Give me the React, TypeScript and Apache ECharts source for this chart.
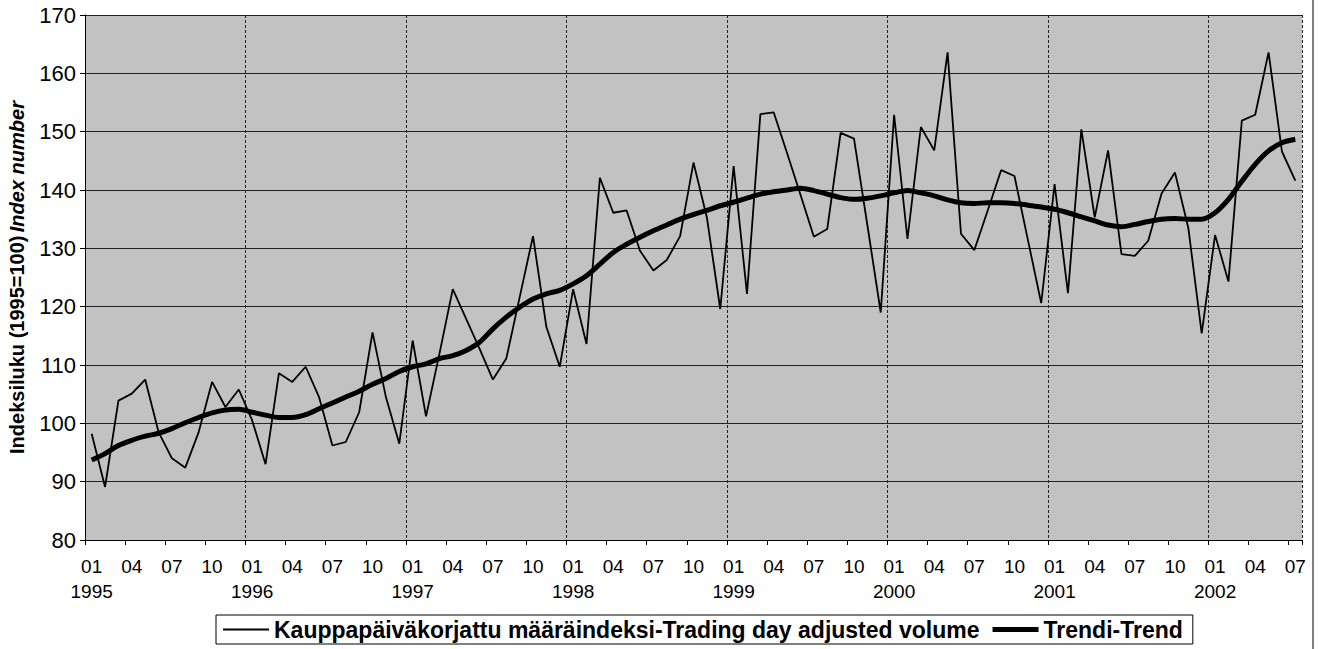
import React, { useEffect, useRef } from "react";
import * as echarts from "echarts";

const years = ["1995", "1996", "1997", "1998", "1999", "2000", "2001", "2002"];
const monthNames = ["01", "02", "03", "04", "05", "06", "07", "08", "09", "10", "11", "12"];
const lastMonthCount = 7; // 2002 goes to 07

const categories: string[] = [];
years.forEach((y, yi) => {
  const n = yi === years.length - 1 ? lastMonthCount : 12;
  for (let m = 0; m < n; m++) categories.push(y + "-" + monthNames[m]);
});

const volume = [
  98.2, 89.1, 103.9, 105.1, 107.5, 98.5, 94.0, 92.4, 98.5, 107.1, 102.8, 105.8,
  100.5, 93.0, 108.6, 107.1, 109.7, 104.5, 96.2, 96.8, 101.9, 115.6, 104.5, 96.5,
  114.2, 101.2, 111.9, 123.0, 117.9, 112.8, 107.5, 111.1, 121.6, 132.1, 116.5, 109.7,
  123.0, 113.6, 142.1, 136.1, 136.5, 129.6, 126.2, 128.0, 132.1, 144.7, 135.3, 119.6,
  144.1, 122.2, 153.0, 153.3, 146.3, 139.2, 132.0, 133.3, 149.8, 148.8, 134.0, 119.0,
  152.9, 131.6, 150.8, 146.8, 163.6, 132.5, 129.7, 136.5, 143.4, 142.4, 131.5, 120.6,
  141.0, 122.3, 150.4, 135.3, 146.8, 129.0, 128.7, 131.3, 139.4, 143.0, 133.5, 115.4,
  132.3, 124.3, 151.9, 152.9, 163.6, 146.6, 141.6,
];

const trend = [
  93.7, 94.8, 96.2, 97.1, 97.8, 98.3, 99.1, 100.1, 101.0, 101.8, 102.3, 102.4,
  101.9, 101.4, 101.0, 101.0, 101.5, 102.5, 103.5, 104.5, 105.5, 106.7, 107.7, 108.9,
  109.7, 110.2, 111.1, 111.6, 112.5, 113.9, 116.2, 118.2, 119.9, 121.3, 122.2, 122.8,
  123.9, 125.3, 127.3, 129.3, 130.7, 131.9, 133.0, 134.0, 135.0, 135.8, 136.5, 137.3,
  137.9, 138.6, 139.3, 139.7, 140.0, 140.3, 139.9, 139.3, 138.7, 138.4, 138.6, 139.0,
  139.5, 139.9, 139.5, 139.0, 138.3, 137.8, 137.7, 137.8, 137.8, 137.7, 137.4, 137.1,
  136.7, 136.1, 135.4, 134.7, 134.0, 133.7, 134.1, 134.6, 135.0, 135.1, 135.0, 135.0,
  136.1, 138.4, 141.5, 144.4, 146.7, 148.1, 148.7,
];

const seriesNames = [
  "Kauppapäiväkorjattu määräindeksi-Trading day adjusted volume",
  "Trendi-Trend",
];

const FONT = "'Liberation Sans', Arial, Helvetica, sans-serif";

export default function App() {
  const ref = useRef<HTMLDivElement>(null);
  useEffect(() => {
    if (!ref.current) return;
    const chart = echarts.init(ref.current, undefined, { renderer: "svg" });
    chart.setOption({
      animation: false,
      backgroundColor: "#ffffff",
      textStyle: { fontFamily: FONT },
      grid: {
        left: 85,
        right: 16,
        top: 15,
        bottom: 109,
        show: true,
        backgroundColor: "#c2c2c2",
        borderWidth: 0,
        containLabel: false,
        outerBoundsMode: "none",
      },
      legend: {
        left: 216,
        top: 615,
        padding: [3, 10, 3, 7],
        borderColor: "#000",
        borderWidth: 1,
        itemGap: 13,
        itemWidth: 46,
        itemHeight: 14,
        textStyle: { fontFamily: FONT, fontWeight: "bold", fontSize: 23, color: "#000" },
        data: [
          { name: seriesNames[0], icon: "path://M0,0H46V2H0Z" },
          { name: seriesNames[1], icon: "path://M0,0H46V5H0Z" },
        ],
      },
      xAxis: {
        type: "category",
        data: categories,
        boundaryGap: true,
        axisLine: { show: true, lineStyle: { color: "#000", width: 1 } },
        axisTick: { show: true, interval: 2, length: 5, lineStyle: { color: "#000" } },
        axisLabel: {
          interval: 2,
          margin: 14,
          fontSize: 19,
          lineHeight: 25,
          color: "#000",
          fontFamily: FONT,
          formatter: (v: string) => {
            const [y, m] = v.split("-");
            return m === "01" ? m + "\n" + y : m;
          },
        },
        splitLine: {
          show: true,
          interval: (i: number) => i % 12 === 0,
          lineStyle: { color: "#222", width: 1, type: [3, 2] },
        },
      },
      yAxis: {
        type: "value",
        min: 80,
        max: 170,
        interval: 10,
        name: "{a|Indeksiluku (1995=100)} {b|Index number}",
        nameLocation: "middle",
        nameGap: 58,
        nameRotate: 90,
        nameTextStyle: {
          rich: {
            a: { fontFamily: FONT, fontWeight: "bold", fontSize: 20, color: "#000" },
            b: { fontFamily: FONT, fontWeight: "bold", fontStyle: "italic", fontSize: 20, color: "#000" },
          },
        },
        axisLine: { show: true, lineStyle: { color: "#000", width: 1 } },
        axisTick: { show: true, length: 5, lineStyle: { color: "#000" } },
        axisLabel: { fontSize: 22, color: "#000", margin: 9, fontFamily: FONT },
        splitLine: { show: true, lineStyle: { color: "#222", width: 1 } },
      },
      series: [
        {
          name: seriesNames[0],
          type: "line",
          data: volume,
          symbol: "none",
          lineStyle: { color: "#000", width: 1.8 },
          itemStyle: { color: "#000" },
          z: 3,
        },
        {
          name: seriesNames[1],
          type: "line",
          data: trend,
          symbol: "none",
          smooth: 0.3,
          lineStyle: { color: "#000", width: 5 },
          itemStyle: { color: "#000" },
          z: 4,
        },
      ],
      graphic: [
        {
          type: "line",
          shape: { x1: 1313, y1: 0, x2: 1313, y2: 649 },
          style: { stroke: "#555", lineWidth: 1.5 },
        },
      ],
    });
    return () => chart.dispose();
  }, []);
  return <div ref={ref} style={{ width: 1318, height: 649, position: "absolute", left: 0, top: 0 }} />;
}
